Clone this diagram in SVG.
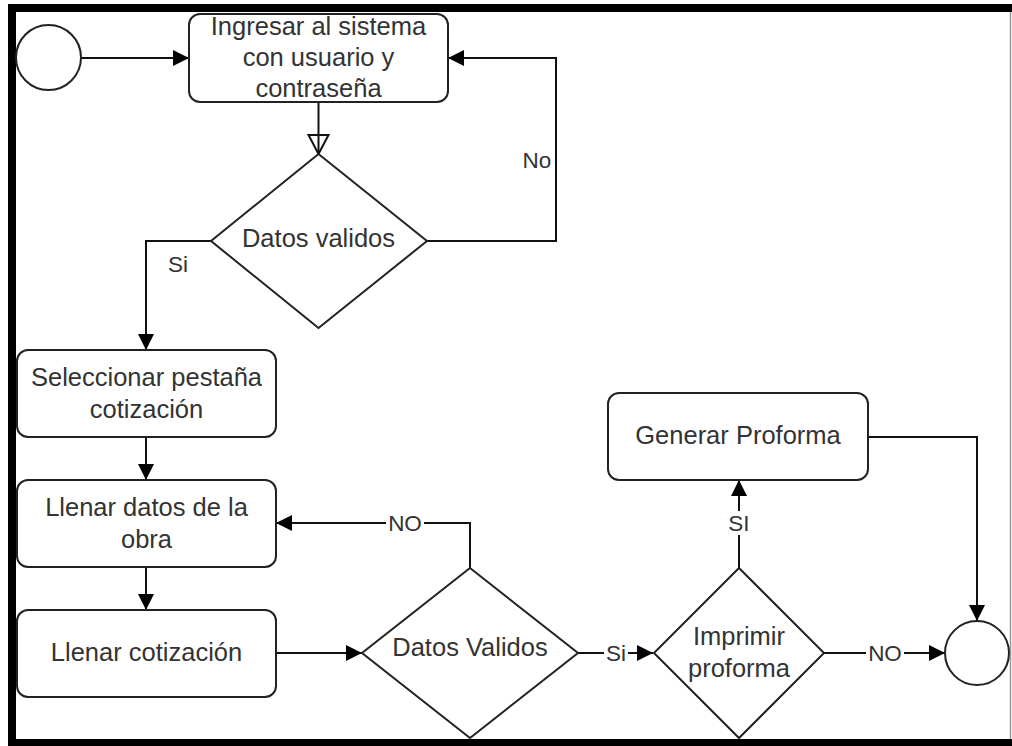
<svg xmlns="http://www.w3.org/2000/svg" width="1012" height="746" viewBox="0 0 1012 746">
<defs>
<style>
.node{fill:#fff;stroke:#222;stroke-width:2}
.t{font-family:"Liberation Sans",Arial,sans-serif;font-size:25.5px;fill:#333;text-anchor:middle}
.l{font-family:"Liberation Sans",Arial,sans-serif;font-size:22.5px;fill:#333;text-anchor:middle}
.c{fill:none;stroke:#111;stroke-width:2}
.lbg{fill:#fff}
</style>
<marker id="arr" markerUnits="userSpaceOnUse" markerWidth="18" markerHeight="18" refX="16" refY="8" orient="auto">
<path d="M0,0 L16,8 L0,16 z" fill="#000"/>
</marker>
<marker id="open" markerUnits="userSpaceOnUse" markerWidth="22" markerHeight="24" refX="20" refY="11" orient="auto">
<path d="M1,1 L20,11 L1,21 z" fill="none" stroke="#111" stroke-width="2"/>
</marker>
</defs>
<rect x="0" y="0" width="1012" height="746" fill="#fff"/>
<g id="frame">
<rect x="8" y="4" width="1004" height="8" fill="#000"/>
<rect x="8" y="4" width="8" height="742" fill="#000"/>
<rect x="8" y="739" width="1004" height="7" fill="#000"/>
<line x1="1010.5" y1="12" x2="1010.5" y2="739" stroke="#999" stroke-width="1.5"/>
</g>
<g id="connectors">
<line class="c" x1="81" y1="58" x2="189" y2="58" marker-end="url(#arr)"/>
<line class="c" x1="318.5" y1="102" x2="318.5" y2="154" marker-end="url(#open)"/>
<polyline class="c" points="427,241 556,241 556,58 448,58" marker-end="url(#arr)"/>
<text class="l" x="537" y="168">No</text>
<polyline class="c" points="211,241 146,241 146,350" marker-end="url(#arr)"/>
<text class="l" x="178" y="272">Si</text>
<line class="c" x1="146" y1="437" x2="146" y2="480" marker-end="url(#arr)"/>
<line class="c" x1="146" y1="567" x2="146" y2="610" marker-end="url(#arr)"/>
<line class="c" x1="276" y1="653" x2="362" y2="653" marker-end="url(#arr)"/>
<polyline class="c" points="470,568 470,523 276,523" marker-end="url(#arr)"/>
<rect class="lbg" x="386" y="511" width="38" height="24"/>
<text class="l" x="405" y="531">NO</text>
<line class="c" x1="578" y1="653" x2="653" y2="653" marker-end="url(#arr)"/>
<rect class="lbg" x="604" y="641" width="24" height="24"/>
<text class="l" x="616" y="661">Si</text>
<line class="c" x1="739" y1="568" x2="739" y2="480" marker-end="url(#arr)"/>
<rect class="lbg" x="727" y="511" width="24" height="24"/>
<text class="l" x="739" y="531">SI</text>
<polyline class="c" points="868,437 977,437 977,621" marker-end="url(#arr)"/>
<line class="c" x1="824" y1="653" x2="945" y2="653" marker-end="url(#arr)"/>
<rect class="lbg" x="866" y="641" width="38" height="24"/>
<text class="l" x="885" y="661">NO</text>
</g>
<g id="start"><circle class="node" cx="48.5" cy="57.5" r="32.5"/></g>
<g id="ingresar">
<rect class="node" x="189" y="14" width="259" height="88" rx="11"/>
<text class="t" x="318.5" y="35">Ingresar al sistema</text>
<text class="t" x="318.5" y="66">con usuario y</text>
<text class="t" x="318.5" y="97">contraseña</text>
</g>
<g id="datos1">
<polygon class="node" points="318.5,154 427,241 318.5,328 211,241"/>
<text class="t" x="318.5" y="247">Datos validos</text>
</g>
<g id="seleccionar">
<rect class="node" x="17" y="350" width="259" height="87" rx="11"/>
<text class="t" x="146.5" y="386">Seleccionar pestaña</text>
<text class="t" x="146.5" y="418">cotización</text>
</g>
<g id="llenar-datos">
<rect class="node" x="17" y="480" width="259" height="87" rx="11"/>
<text class="t" x="146.5" y="516">Llenar datos de la</text>
<text class="t" x="146.5" y="548">obra</text>
</g>
<g id="llenar-cot">
<rect class="node" x="17" y="610" width="259" height="87" rx="11"/>
<text class="t" x="146.5" y="661">Llenar cotización</text>
</g>
<g id="datos2">
<polygon class="node" points="470,568 578,653 470,738 362,653"/>
<text class="t" x="470" y="656">Datos Validos</text>
</g>
<g id="imprimir">
<polygon class="node" points="739,568 824,653 739,738 654,653"/>
<text class="t" x="739" y="645">Imprimir</text>
<text class="t" x="739" y="677">proforma</text>
</g>
<g id="generar">
<rect class="node" x="608" y="393" width="260" height="87" rx="11"/>
<text class="t" x="738" y="444">Generar Proforma</text>
</g>
<g id="end"><circle class="node" cx="977" cy="653" r="32"/></g>
<g id="frame-bottom">
<rect x="8" y="739" width="1004" height="7" fill="#000"/>
</g>
</svg>
